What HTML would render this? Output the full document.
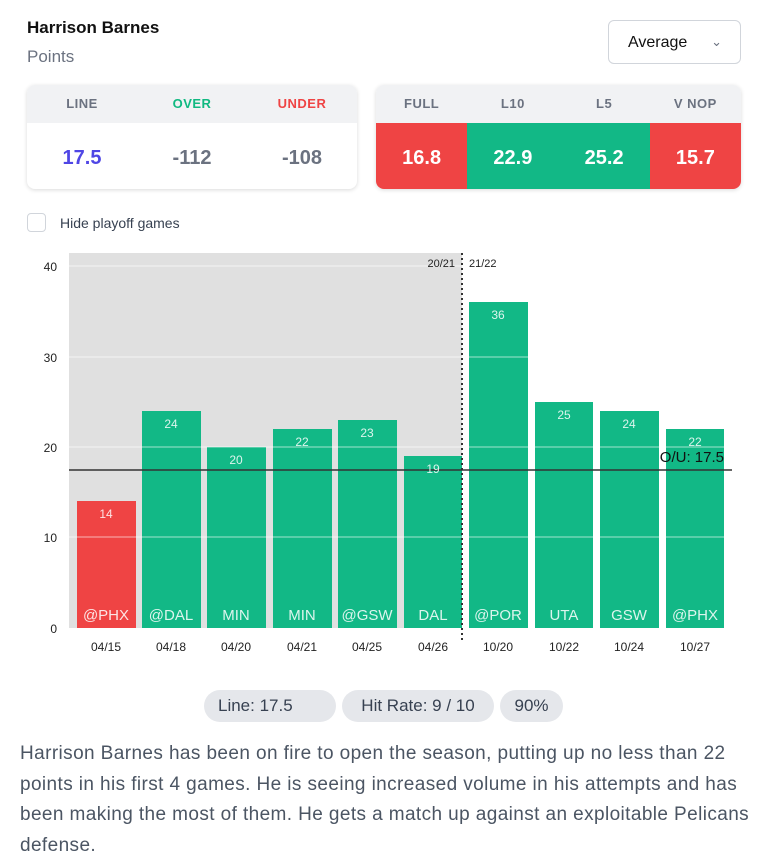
<!DOCTYPE html>
<html><head><meta charset="utf-8"><style>
*{margin:0;padding:0;box-sizing:border-box}
body{width:784px;height:868px;background:#fff;font-family:"Liberation Sans",sans-serif;position:relative;overflow:hidden;color:#111}
.abs{position:absolute}
.card{position:absolute;top:85px;height:104px;border-radius:8px;box-shadow:0 1px 4px rgba(0,0,0,.15);overflow:hidden;background:#fff}
.hdr{height:38px;background:#f1f2f4;display:flex}
.hdr div,.val div{flex:1;text-align:center}
.hdr div{line-height:38px;font-size:13px;font-weight:bold;color:#6b7280;letter-spacing:.5px}
.val{height:66px;display:flex}
.val div{line-height:70px;font-size:20px;font-weight:bold}
.pill{position:absolute;top:690px;height:32px;border-radius:16px;background:#e5e7eb;font-size:17px;line-height:32px;color:#374151;text-align:center}
</style></head><body>
<div class="abs" style="left:27px;top:18px;font-size:17px;font-weight:bold">Harrison Barnes</div>
<div class="abs" style="left:27px;top:47px;font-size:17px;color:#6b7280">Points</div>
<div class="abs" style="left:608px;top:20px;width:133px;height:44px;border:1px solid #d1d5db;border-radius:6px;font-size:16px;line-height:44px;padding-left:19px;color:#111">Average<span style="position:absolute;right:18px;top:-1px;color:#6b7280;font-size:13px">&#8964;</span></div>
<div class="card" style="left:27px;width:330px">
<div class="hdr"><div>LINE</div><div style="color:#10b981">OVER</div><div style="color:#ef4444">UNDER</div></div>
<div class="val"><div style="color:#4f46e5">17.5</div><div style="color:#6b7280">-112</div><div style="color:#6b7280">-108</div></div>
</div>
<div class="card" style="left:376px;width:365px">
<div class="hdr"><div>FULL</div><div>L10</div><div>L5</div><div>V NOP</div></div>
<div class="val" style="color:#fff"><div style="background:#ef4444">16.8</div><div style="background:#12b886">22.9</div><div style="background:#12b886">25.2</div><div style="background:#ef4444">15.7</div></div>
</div>
<div class="abs" style="left:27px;top:213px;width:19px;height:19px;border:1px solid #d1d5db;border-radius:4px"></div>
<div class="abs" style="left:60px;top:215px;font-size:14px;color:#374151">Hide playoff games</div>
<svg class="abs" style="left:0;top:0" width="784" height="680" font-family="Liberation Sans, sans-serif">
<rect x="69" y="253" width="393" height="375" fill="#e0e0e0"/>
<g fill="#12b886">
<rect x="77" y="501" width="59" height="127" fill="#ef4444"/>
<rect x="142" y="411" width="59" height="217"/>
<rect x="207" y="447" width="59" height="181"/>
<rect x="273" y="429" width="59" height="199"/>
<rect x="338" y="420" width="59" height="208"/>
<rect x="404" y="456" width="58" height="172"/>
<rect x="469" y="302" width="59" height="326"/>
<rect x="535" y="402" width="58" height="226"/>
<rect x="600" y="411" width="59" height="217"/>
<rect x="666" y="429" width="58" height="199"/>
</g>
<g stroke="#fff" stroke-opacity=".6" stroke-width="1">
<line x1="69" x2="732" y1="266" y2="266"/><line x1="69" x2="732" y1="357" y2="357"/><line x1="69" x2="732" y1="447" y2="447"/><line x1="69" x2="732" y1="537" y2="537"/>
</g>
<line x1="69" x2="732" y1="470" y2="470" stroke="#333" stroke-width="1.5"/>
<line x1="462" x2="462" y1="253" y2="640" stroke="#333" stroke-width="2" stroke-dasharray="2,3"/>
<g font-size="12" fill="#222" text-anchor="end"><text x="57" y="271">40</text><text x="57" y="362">30</text><text x="57" y="452">20</text><text x="57" y="542">10</text><text x="57" y="633">0</text></g>
<text x="455" y="267" font-size="11" text-anchor="end" fill="#222">20/21</text>
<text x="469" y="267" font-size="11" fill="#222">21/22</text>
<text x="724" y="462" font-size="15" text-anchor="end" fill="#111">O/U: 17.5</text>
<g font-size="12" fill="#fff" fill-opacity=".85" text-anchor="middle">
<text x="106" y="518">14</text><text x="171" y="428">24</text><text x="236" y="464">20</text><text x="302" y="446">22</text><text x="367" y="437">23</text><text x="433" y="473">19</text><text x="498" y="319">36</text><text x="564" y="419">25</text><text x="629" y="428">24</text><text x="695" y="446">22</text>
</g>
<g font-size="15" fill="#fff" fill-opacity=".85" text-anchor="middle">
<text x="106" y="620">@PHX</text><text x="171" y="620">@DAL</text><text x="236" y="620">MIN</text><text x="302" y="620">MIN</text><text x="367" y="620">@GSW</text><text x="433" y="620">DAL</text><text x="498" y="620">@POR</text><text x="564" y="620">UTA</text><text x="629" y="620">GSW</text><text x="695" y="620">@PHX</text>
</g>
<g font-size="12" fill="#222" text-anchor="middle">
<text x="106" y="651">04/15</text><text x="171" y="651">04/18</text><text x="236" y="651">04/20</text><text x="302" y="651">04/21</text><text x="367" y="651">04/25</text><text x="433" y="651">04/26</text><text x="498" y="651">10/20</text><text x="564" y="651">10/22</text><text x="629" y="651">10/24</text><text x="695" y="651">10/27</text>
</g>
</svg>
<div class="pill" style="left:204px;width:132px;text-align:left;padding-left:14px">Line: 17.5</div>
<div class="pill" style="left:342px;width:152px">Hit Rate: 9 / 10</div>
<div class="pill" style="left:500px;width:63px">90%</div>
<div class="abs" style="left:20px;top:739px;width:770px;white-space:nowrap;font-size:19px;letter-spacing:0.4px;line-height:30.5px;color:#4b5563">Harrison Barnes has been on fire to open the season, putting up no less than 22<br>points in his first 4 games. He is seeing increased volume in his attempts and has<br>been making the most of them. He gets a match up against an exploitable Pelicans<br>defense.</div>
</body></html>
